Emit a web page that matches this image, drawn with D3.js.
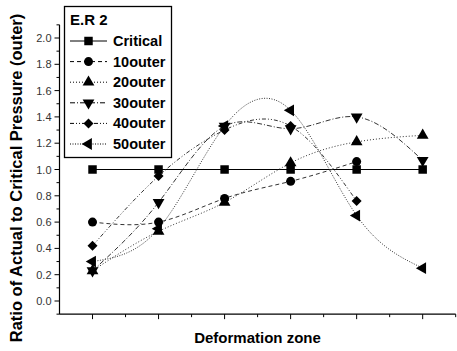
<!doctype html>
<html>
<head>
<script src="https://d3js.org/d3.v7.min.js"></script>
<style>
body { margin: 0; background: white; }
text { font-family: "Liberation Sans", Arial, sans-serif; }
</style>
</head>
<body>
<svg width="457" height="351" id="chart"></svg>
<script>
// data
var zones = [1, 2, 3, 4, 5, 6];
var seriesNames = ["Critical", "10outer", "20outer", "30outer", "40outer", "50outer"];
var critical = [1.0, 1.0, 1.0, 1.0, 1.0, 1.0];
var outer10 = [0.60, 0.60, 0.78, 0.91, 1.06];
var outer20 = [0.23, 0.53, 0.75, 1.05, 1.21, 1.26];
var outer30 = [0.23, 0.75, 1.33, 1.31, 1.40, 1.07];
var outer40 = [0.42, 0.95, 1.30, 1.33, 0.76];
var outer50 = [0.30, 0.55, 1.33, 1.45, 0.65, 0.25];
var yTicks = [0.0, 0.2, 0.4, 0.6, 0.8, 1.0, 1.2, 1.4, 1.6, 1.8, 2.0];

var allValues = [critical, outer10, outer20, outer30, outer40, outer50];
var symbols = ["square", "circle", "up", "down", "diamond", "left"];
var dashes = [null, "4,3", "1,2", "5,2,1,2", "4,2,1,2,1,2", "1,1.5"];

var svg = d3.select("#chart");

var x = d3.scaleLinear().domain([0.5, 6.5]).range([59.5, 455.7]);
var y = d3.scaleLinear().domain([0, 2]).range([301, 38]);

// axes
var yAxis = svg.append("g").attr("transform", "translate(59.5,0)");
yAxis.append("line").attr("y1", y(-0.1)).attr("y2", y(2.1)).attr("stroke", "#000").attr("stroke-width", 1.2);
d3.range(-1, 22).forEach(function(i) {
  var v = i / 10;
  var major = i % 2 == 0 && i >= 0;
  yAxis.append("line").attr("x1", 0).attr("x2", major ? -5 : -3)
    .attr("y1", y(v)).attr("y2", y(v)).attr("stroke", "#000");
});
yAxis.selectAll("text.tick").data(yTicks).enter().append("text")
  .attr("x", -8).attr("y", function(d) { return y(d) + 4; })
  .attr("text-anchor", "end").style("font-size", "11px").attr("fill", "#333")
  .text(function(d) { return d.toFixed(1); });

var xAxis = svg.append("g").attr("transform", "translate(0," + y(-0.1) + ")");
xAxis.append("line").attr("x1", x(0.5)).attr("x2", x(6.5)).attr("stroke", "#000").attr("stroke-width", 1.2);
d3.range(1, 13).forEach(function(i) {
  var v = 0.5 + i / 2;
  var major = i % 2 == 1;
  xAxis.append("line").attr("x1", x(v)).attr("x2", x(v))
    .attr("y1", 0).attr("y2", major ? 5 : 3).attr("stroke", "#000");
});

svg.append("text").attr("x", 257.5).attr("y", 343).attr("text-anchor", "middle")
  .style("font-size", "15px").style("font-weight", "bold").text("Deformation zone");
svg.append("text").attr("transform", "translate(22,178) rotate(-90)").attr("text-anchor", "middle")
  .style("font-size", "16.5px").style("font-weight", "bold").text("Ratio of Actual to Critical Pressure (outer)");

function marker(g, i, cx, cy) {
  var s = symbols[i], sym = d3.symbolTriangle, rot = 0, size = 60;
  if (s == "square") { sym = d3.symbolSquare; size = 72; }
  if (s == "circle") { sym = d3.symbolCircle; size = 64; }
  if (s == "diamond") { sym = d3.symbolSquare; size = 50; rot = 45; }
  if (s == "down") rot = 180;
  if (s == "left") rot = -90;
  g.append("path").attr("d", d3.symbol().type(sym).size(size)())
    .attr("transform", "translate(" + cx + "," + cy + ") rotate(" + rot + ")")
    .attr("fill", "#000");
}

// lines
allValues.forEach(function(vals, i) {
  var pts = vals.map(function(v, j) { return [zones[j], v]; });
  var line = d3.line().x(function(d) { return x(d[0]); }).y(function(d) { return y(d[1]); })
    .curve(i == 0 ? d3.curveLinear : d3.curveNatural);
  svg.append("path").attr("d", line(pts)).attr("fill", "none")
    .attr("stroke", i == 0 ? "#000" : "#333").attr("stroke-width", 1)
    .attr("stroke-dasharray", dashes[i]);
});
allValues.forEach(function(vals, i) {
  var g = svg.append("g");
  vals.forEach(function(v, j) { marker(g, i, x(zones[j]), y(v)); });
});

// legend
var lg = svg.append("g");
lg.append("rect").attr("x", 64.5).attr("y", 6.5).attr("width", 107).attr("height", 151)
  .attr("fill", "white").attr("stroke", "#000").attr("stroke-width", 1.3);
lg.append("text").attr("x", 70).attr("y", 25).style("font-size", "15px").style("font-weight", "bold").text("E.R 2");
seriesNames.forEach(function(name, i) {
  var ly = 41 + i * 20.6;
  lg.append("line").attr("x1", 70).attr("x2", 107).attr("y1", ly).attr("y2", ly)
    .attr("stroke", "#000").attr("stroke-dasharray", dashes[i]);
  marker(lg, i, 88.5, ly);
  lg.append("text").attr("x", 113).attr("y", ly + 5).style("font-size", "14.5px")
    .style("font-weight", "bold").text(name);
});
</script>
</body>
</html>
